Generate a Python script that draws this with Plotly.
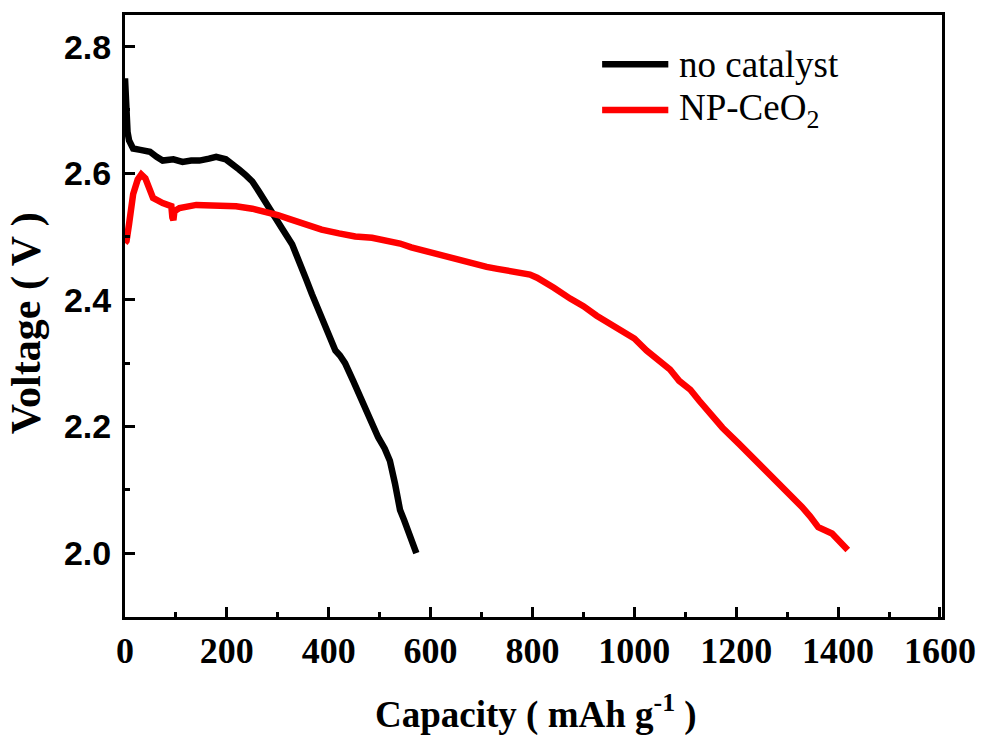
import plotly.graph_objects as go

# no catalyst (black)
cap_no = [0, 2, 5, 8, 12, 16, 30, 49, 62, 74, 95, 113, 130, 146, 165, 179, 198, 212, 224, 237, 250, 263,
          276, 292, 309, 328, 341, 355, 367, 380, 390, 402, 413, 422, 432, 448, 460, 471, 485, 497, 510,
          520, 530, 540, 548, 556, 563, 569, 572]
v_no = [2.750, 2.700, 2.665, 2.652, 2.643, 2.639, 2.637, 2.634, 2.626, 2.620, 2.622, 2.618, 2.620, 2.620,
        2.623, 2.626, 2.622, 2.615, 2.606, 2.597, 2.587, 2.571, 2.553, 2.533, 2.512, 2.488, 2.459,
        2.434, 2.409, 2.385, 2.362, 2.342, 2.320, 2.312, 2.300, 2.272, 2.250, 2.225, 2.205, 2.183,
        2.165, 2.146, 2.110, 2.068, 2.052, 2.036, 2.020, 2.006, 2.000]

# NP-CeO2 (red)
cap_np = [0, 3, 8, 16, 25, 32, 40, 45, 55, 74, 91, 93, 95, 97, 107, 140, 179, 218, 250, 276, 300, 322,
          350, 386, 420, 452, 485, 517, 540, 562, 585, 608, 634, 660, 686, 710, 731, 755, 776, 795, 809,
          825, 842, 874, 900, 926, 965, 1000, 1024, 1049, 1070, 1088, 1110, 1127, 1150, 1173, 1205, 1230,
          1252, 1275, 1297, 1329, 1345, 1361, 1388, 1400, 1410, 1419]
v_np = [2.490, 2.493, 2.520, 2.567, 2.590, 2.598, 2.592, 2.583, 2.561, 2.553, 2.548, 2.530, 2.526, 2.540,
        2.545, 2.550, 2.550, 2.548, 2.544, 2.540, 2.534, 2.528, 2.520, 2.511, 2.505, 2.500, 2.498,
        2.493, 2.489, 2.483, 2.478, 2.473, 2.468, 2.462, 2.457, 2.452, 2.449, 2.446, 2.443, 2.440,
        2.435, 2.428, 2.419, 2.402, 2.390, 2.375, 2.356, 2.339, 2.320, 2.304, 2.290, 2.272, 2.258,
        2.241, 2.220, 2.198, 2.173, 2.153, 2.136, 2.118, 2.099, 2.073, 2.058, 2.041, 2.031, 2.022,
        2.013, 2.005]

series_names = ["no catalyst", "NP-CeO<sub>2</sub>"]
series_colors = ["#000000", "#ff0000"]

x_ticks = [0, 200, 400, 600, 800, 1000, 1200, 1400, 1600]
y_ticks = [2.0, 2.2, 2.4, 2.6, 2.8]

fig = go.Figure()
fig.add_trace(go.Scatter(x=cap_no, y=v_no, mode="lines", name=series_names[0],
                         line=dict(color=series_colors[0], width=6.5), showlegend=False))
fig.add_trace(go.Scatter(x=cap_np, y=v_np, mode="lines", name=series_names[1],
                         line=dict(color=series_colors[1], width=6.5), showlegend=False))

serif = "Liberation Serif, Times New Roman, serif"
sans = "Liberation Sans, Arial, sans-serif"

fig.update_layout(
    width=988, height=735,
    margin=dict(l=125, r=40, t=13, b=118),
    paper_bgcolor="white", plot_bgcolor="white",
    xaxis=dict(
        range=[0, 1604], tickvals=x_ticks, ticktext=[str(t) for t in x_ticks],
        showline=True, linecolor="black", linewidth=3, mirror=True,
        ticks="inside", ticklen=10, tickwidth=3, tickcolor="black",
        minor=dict(ticks="inside", ticklen=5, tickwidth=3, tickcolor="black", dtick=100, tick0=0, showgrid=False),
        showgrid=False, zeroline=False,
        tickfont=dict(family=serif, size=36, color="black", weight="bold"),
    ),
    yaxis=dict(
        range=[1.899, 2.850], tickvals=y_ticks, ticktext=["%.1f" % t for t in y_ticks],
        showline=True, linecolor="black", linewidth=3, mirror=True,
        ticks="inside", ticklen=10, tickwidth=3, tickcolor="black",
        minor=dict(ticks="inside", ticklen=5, tickwidth=3, tickcolor="black", dtick=0.1, tick0=2.0, showgrid=False),
        showgrid=False, zeroline=False, ticklabelstandoff=4,
        tickfont=dict(family=sans, size=34, color="black", weight="bold"),
    ),
)

# axis titles
fig.add_annotation(xref="paper", yref="paper", x=0.503, y=-0.157, xanchor="center", yanchor="middle",
                   text="<b>Capacity ( mAh g<sup>-1</sup> )</b>", showarrow=False,
                   font=dict(family=serif, size=37, color="black"))
fig.add_annotation(xref="paper", yref="paper", x=-0.121, y=0.488, xanchor="center", yanchor="middle",
                   text="<b>Voltage ( V )</b>", showarrow=False, textangle=-90,
                   font=dict(family=serif, size=42, color="black"))

# manual legend
leg_y = [0.918, 0.842]
for i in range(2):
    fig.add_shape(type="line", xref="paper", yref="paper", x0=0.584, x1=0.665, y0=leg_y[i], y1=leg_y[i],
                  line=dict(color=series_colors[i], width=6.5))
    fig.add_annotation(xref="paper", yref="paper", x=0.676, y=leg_y[i], xanchor="left", yanchor="middle",
                       text=series_names[i], showarrow=False,
                       font=dict(family=serif, size=37, color="black"))

fig.write_html("out.html")
